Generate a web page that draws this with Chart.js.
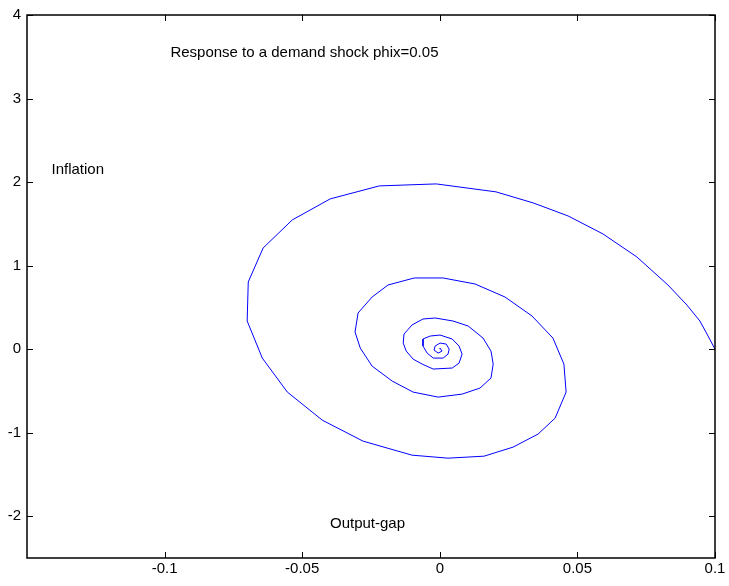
<!DOCTYPE html>
<html>
<head>
<meta charset="utf-8">
<script src="https://cdn.jsdelivr.net/npm/chart.js@4"></script>
<style>
  html, body { margin: 0; padding: 0; background: #fff; }
  #wrap { width: 729px; height: 586px; }
</style>
</head>
<body>
<div id="wrap"><canvas id="phaseChart" width="729" height="586"></canvas></div>
<script>
// Output-gap (x) and inflation (y) path
const outputGap = [
  0.1, 0.0967, 0.0945, 0.0898, 0.0829, 0.0716, 0.0593, 0.0466, 0.0339, 0.0204,
  -0.0013, -0.0220, -0.0398, -0.0536, -0.0642, -0.0696, -0.0700, -0.0645, -0.0554, -0.0427,
  -0.0279, -0.0101, 0.0030, 0.0161, 0.0266, 0.0357, 0.0419, 0.0459, 0.0451, 0.0411,
  0.0335, 0.0237, 0.0128, 0.0012, -0.0093, -0.0188, -0.0246, -0.0297, -0.0308, -0.0289,
  -0.0246, -0.0173, -0.0097, -0.0006, 0.0081, 0.0146, 0.0186, 0.0194, 0.0186, 0.0157,
  0.0103, 0.0048, -0.0017, -0.0061, -0.0101, -0.0130, -0.0133, -0.0122, -0.0097, -0.0064,
  -0.0024, 0.0045, 0.0070, 0.0081, 0.0070, 0.0045, 0.0001, -0.0035, -0.0061, -0.0061,
  -0.0046, -0.0024, 0.0012, 0.0030, 0.0034, 0.0023, 0.0001, -0.0017, -0.0021, -0.0006,
  0.0008, 0.0001, 0
];
const inflation = [
  0, 0.205, 0.337, 0.528, 0.768, 1.104, 1.379, 1.595, 1.751, 1.883,
  1.978, 1.954, 1.799, 1.547, 1.211, 0.804, 0.337, -0.107, -0.514, -0.850,
  -1.101, -1.269, -1.305, -1.281, -1.173, -1.017, -0.826, -0.514, -0.179, 0.133,
  0.397, 0.624, 0.780, 0.852, 0.852, 0.768, 0.624, 0.433, 0.205, 0.013,
  -0.203, -0.382, -0.514, -0.574, -0.538, -0.466, -0.346, -0.179, -0.023, 0.133,
  0.277, 0.337, 0.373, 0.361, 0.289, 0.181, 0.073, -0.023, -0.119, -0.179,
  -0.238, -0.226, -0.167, -0.059, 0.037, 0.121, 0.169, 0.157, 0.121, 0.037,
  -0.047, -0.107, -0.107, -0.059, 0.001, 0.061, 0.073, 0.037, -0.011, -0.047,
  -0.023, 0.013, 0
];

const xTicks = [-0.1, -0.05, 0, 0.05, 0.1];
const yTicks = [-2, -1, 0, 1, 2, 3, 4];

// text annotations placed in data units (left edge, vertical middle)
const notes = [
  { text: 'Response to a demand shock phix=0.05', x: -0.0979, y: 3.548 },
  { text: 'Inflation', x: -0.1411, y: 2.146 },
  { text: 'Output-gap', x: -0.0399, y: -2.096 }
];

const points = outputGap.map((v, i) => ({ x: v, y: inflation[i] }));
const FAMILY = '"Liberation Sans", Arial, sans-serif';

// draw box and inward tick marks like matlab
const boxPlugin = {
  id: 'boxPlugin',
  afterDraw(chart) {
    const { ctx, chartArea: a, scales } = chart;
    ctx.save();
    ctx.strokeStyle = '#000';
    ctx.lineWidth = 1;
    ctx.beginPath();
    xTicks.forEach(t => {
      const px = Math.round(scales.x.getPixelForValue(t)) + 0.5;
      ctx.moveTo(px, a.bottom); ctx.lineTo(px, a.bottom - 6);
      ctx.moveTo(px, a.top); ctx.lineTo(px, a.top + 6);
    });
    yTicks.forEach(t => {
      const py = Math.round(scales.y.getPixelForValue(t)) + 0.5;
      ctx.moveTo(a.left, py); ctx.lineTo(a.left + 6, py);
      ctx.moveTo(a.right, py); ctx.lineTo(a.right - 6, py);
    });
    ctx.stroke();
    ctx.lineWidth = 1.5;
    ctx.strokeRect(a.left, a.top, a.right - a.left, a.bottom - a.top);

    ctx.fillStyle = '#000';
    ctx.font = '15px ' + FAMILY;
    ctx.textAlign = 'left';
    ctx.textBaseline = 'middle';
    notes.forEach(n => {
      ctx.fillText(n.text, scales.x.getPixelForValue(n.x), scales.y.getPixelForValue(n.y));
    });
    ctx.restore();
  }
};

const fmt = v => String(Math.round(v * 1000) / 1000);

new Chart(document.getElementById('phaseChart'), {
  type: 'scatter',
  data: {
    datasets: [{
      data: points,
      showLine: true,
      borderColor: '#0000ff',
      borderWidth: 1,
      pointRadius: 0,
      tension: 0,
      fill: false
    }]
  },
  options: {
    responsive: false,
    animation: false,
    layout: { padding: { top: 14, right: 14, left: 0, bottom: 0 } },
    plugins: { legend: { display: false }, tooltip: { enabled: false } },
    scales: {
      x: {
        type: 'linear',
        min: -0.15,
        max: 0.1,
        afterBuildTicks: s => { s.ticks = xTicks.map(v => ({ value: v })); },
        afterFit: s => { s.height = 28; },
        grid: { display: false, drawTicks: false },
        border: { display: false },
        ticks: {
          color: '#000',
          font: { family: FAMILY, size: 15 },
          padding: 2,
          maxRotation: 0,
          callback: v => fmt(v)
        }
      },
      y: {
        type: 'linear',
        min: -2.5,
        max: 4,
        afterBuildTicks: s => { s.ticks = yTicks.map(v => ({ value: v })); },
        afterFit: s => { s.width = 27; },
        grid: { display: false, drawTicks: false },
        border: { display: false },
        ticks: {
          color: '#000',
          font: { family: FAMILY, size: 15 },
          padding: 6,
          callback: v => fmt(v)
        }
      }
    }
  },
  plugins: [boxPlugin]
});
</script>
</body>
</html>
